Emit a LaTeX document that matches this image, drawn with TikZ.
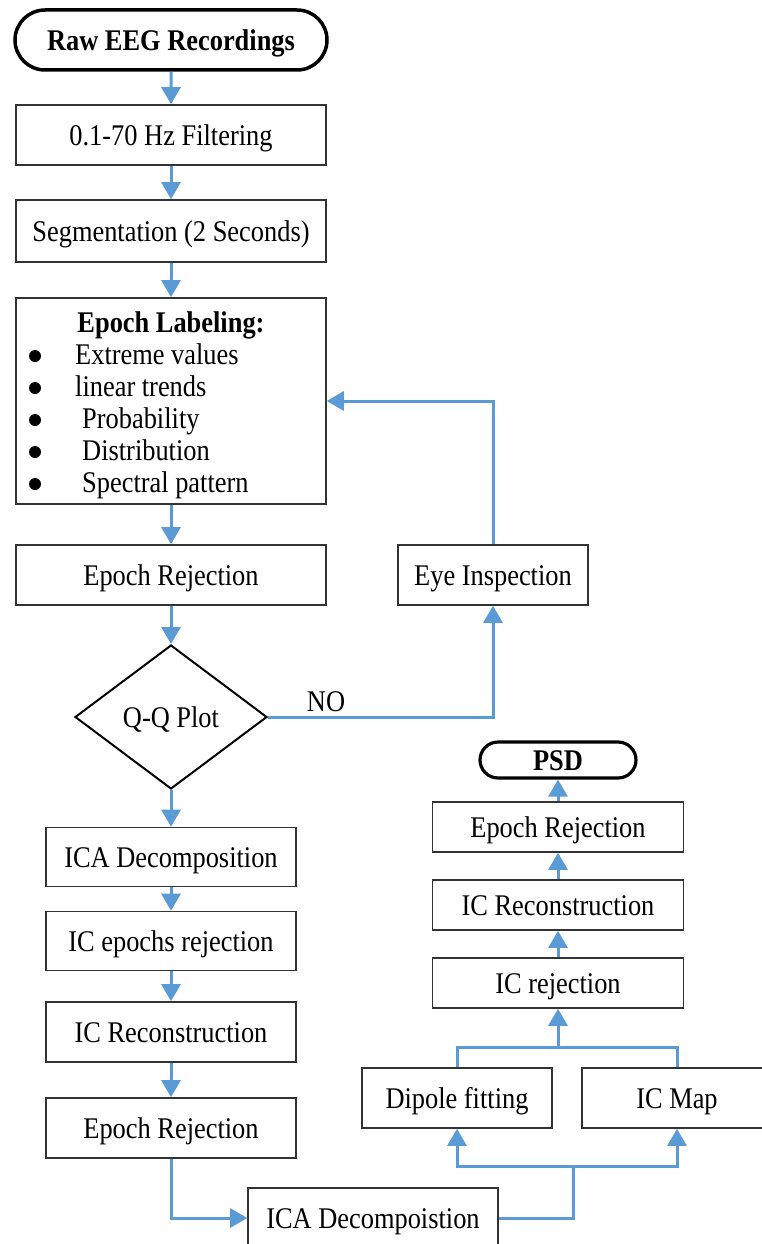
\documentclass[tikz,border=0pt]{standalone}
\usepackage{fontspec}
\setmainfont{Liberation Serif}[FakeStretch=0.88]
\usetikzlibrary{arrows.meta,shapes.geometric,shapes.misc}
\definecolor{flowblue}{HTML}{5B9BD5}
\definecolor{boxline}{HTML}{333333}
\tikzset{
  lbl/.style={font=\fontsize{30}{36}\selectfont, text height=24pt, text depth=3pt, inner sep=0pt},
  stepbox/.style={lbl, draw=boxline, line width=1.6pt, fill=white, align=center},
  terminal/.style={lbl, rounded rectangle, draw=black, line width=3.5pt, fill=white, font=\fontsize{30}{36}\selectfont\bfseries},
  decision/.style={lbl, diamond, draw=black, line width=2pt, fill=white, aspect=1.333, minimum width=192pt, minimum height=144pt},
  dot/.style={circle, fill=black, inner sep=0pt, minimum size=12pt},
  flow/.style={draw=flowblue, line width=3pt},
  arr/.style={flow, -{Triangle[width=19pt,length=17pt]}},
}
\begin{document}
\begin{tikzpicture}[x=1pt,y=-1pt]
\useasboundingbox (0,0) rectangle (761,1244);

% ---- main column ----
\node[terminal, minimum width=312pt, minimum height=60pt] (raw) at (171,40) {Raw EEG Recordings};
\node[stepbox, minimum width=310pt, minimum height=60pt] (filt) at (171,135) {0.1-70 Hz Filtering};
\node[stepbox, minimum width=310pt, minimum height=62pt] (seg) at (171,231) {Segmentation (2 Seconds)};

% epoch labeling box with its criteria list
\node[stepbox, minimum width=310pt, minimum height=206pt] (lab) at (171,401) {};
\node[lbl, font=\fontsize{30}{36}\selectfont\bfseries] (labhead) at (171,322) {Epoch Labeling:};
\node[dot] (b1) at (35,356) {};
\node[dot] (b2) at (35,388) {};
\node[dot] (b3) at (35,420) {};
\node[dot] (b4) at (35,452) {};
\node[dot] (b5) at (35,484) {};
\node[lbl, anchor=west] (c1) at (75,354) {Extreme values};
\node[lbl, anchor=west] (c2) at (75,386) {linear trends};
\node[lbl, anchor=west] (c3) at (82,418) {Probability};
\node[lbl, anchor=west] (c4) at (82,450) {Distribution};
\node[lbl, anchor=west] (c5) at (82,482) {Spectral pattern};

\node[stepbox, minimum width=310pt, minimum height=60pt] (rej1) at (171,575) {Epoch Rejection};
\node[stepbox, minimum width=190pt, minimum height=60pt] (eye) at (493,575) {Eye Inspection};
\node[decision] (qq) at (171,717) {Q-Q Plot};
\node[lbl] (no) at (326,701) {NO};

\node[stepbox, minimum width=250pt, minimum height=59pt] (ica1) at (171,857) {ICA Decomposition};
\node[stepbox, minimum width=250pt, minimum height=59pt] (icer) at (171,941) {IC epochs rejection};
\node[stepbox, minimum width=250pt, minimum height=60pt] (icr1) at (171,1032) {IC Reconstruction};
\node[stepbox, minimum width=250pt, minimum height=60pt] (rej2) at (171,1128) {Epoch Rejection};
\node[stepbox, minimum width=250pt, minimum height=60pt] (ica2) at (373,1218) {ICA Decompoistion};

% ---- right column ----
\node[stepbox, minimum width=190pt, minimum height=60pt] (dip) at (457,1098) {Dipole fitting};
\node[stepbox, minimum width=190pt, minimum height=60pt] (map) at (677,1098) {IC Map};
\node[stepbox, minimum width=251pt, minimum height=50pt] (icrej) at (558,983) {IC rejection};
\node[stepbox, minimum width=251pt, minimum height=50pt] (icr2) at (558,905) {IC Reconstruction};
\node[stepbox, minimum width=251pt, minimum height=50pt] (rej3) at (558,827) {Epoch Rejection};
\node[terminal, minimum width=156pt, minimum height=36pt, line width=3.2pt] (psd) at (558,760) {PSD};

\coordinate (split) at (573,1166);
\coordinate (merge) at (558,1047);

% ---- connectors ----
\draw[arr] (raw) -- (filt);
\draw[arr] (filt) -- (seg);
\draw[arr] (seg) -- (lab);
\draw[arr] (lab) -- (rej1);
\draw[arr] (rej1) -- (qq);
\draw[arr] (qq.east) -| (eye.south);
\draw[arr] (eye.north) |- (lab.east);
\draw[arr] (qq) -- (ica1);
\draw[arr] (ica1) -- (icer);
\draw[arr] (icer) -- (icr1);
\draw[arr] (icr1) -- (rej2);
\draw[arr] (rej2.south) |- (ica2.west);
\draw[flow] (ica2.east) -| (split);
\draw[arr] (split) -| (dip.south);
\draw[arr] (split) -| (map.south);
\draw[flow] (dip.north) |- (merge) -| (map.north);
\draw[arr] (merge) -- (icrej.south);
\draw[arr] (icrej) -- (icr2);
\draw[arr] (icr2) -- (rej3);
\draw[arr] (rej3) -- (psd);
\end{tikzpicture}
\end{document}
